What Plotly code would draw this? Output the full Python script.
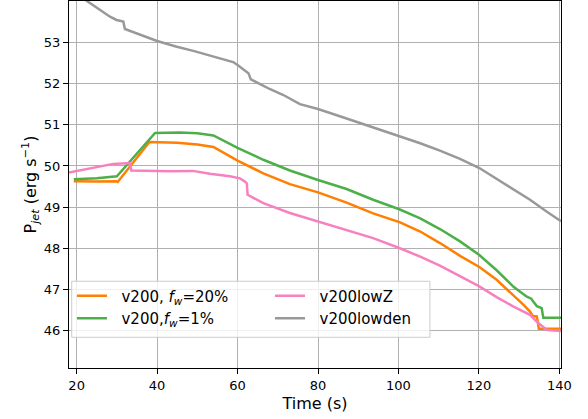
import plotly.graph_objects as go

# Jet power (log10, erg/s) versus time for four runs
t_fw20 = [19.3, 25.0, 29.8, 30.2, 38.1, 45.0, 50.0, 54.0, 58.9, 60.0, 66.4, 73.0, 80.0,
          87.1, 93.7, 100.4, 105.4, 110.3, 115.3, 120.1, 124.4, 128.6, 131.1, 132.7,
          133.4, 134.4, 134.9, 140.4]
p_fw20 = [49.63, 49.62, 49.63, 49.61, 50.58, 50.56, 50.52, 50.46, 50.19, 50.13, 49.82,
          49.56, 49.36, 49.11, 48.85, 48.63, 48.41, 48.13, 47.82, 47.55, 47.24, 46.87,
          46.63, 46.47, 46.36, 46.35, 46.05, 46.05]

t_fw1 = [19.3, 25.0, 30.0, 39.5, 45.6, 50.0, 54.0, 58.1, 60.0, 66.4, 73.0, 80.0, 87.1,
         93.7, 100.2, 105.4, 110.3, 115.3, 120.1, 124.4, 128.6, 131.9, 133.0, 133.5,
         134.4, 135.6, 136.0, 140.4]
p_fw1 = [49.68, 49.70, 49.75, 50.80, 50.81, 50.79, 50.74, 50.54, 50.44, 50.15, 49.89,
         49.66, 49.44, 49.18, 48.95, 48.73, 48.47, 48.17, 47.84, 47.47, 47.07, 46.83,
         46.78, 46.71, 46.60, 46.55, 46.32, 46.32]

t_lowz = [18.1, 24.1, 29.1, 33.3, 33.6, 40.0, 43.2, 48.9, 53.1, 58.1, 60.6, 61.8, 62.3,
          62.5, 66.4, 73.0, 80.0, 87.1, 93.7, 100.2, 105.4, 110.3, 115.3, 120.1, 124.4,
          128.6, 132.7, 134.4, 136.9, 140.4]
p_lowz = [49.84, 49.95, 50.05, 50.07, 49.89, 49.88, 49.87, 49.88, 49.81, 49.75, 49.70,
          49.62, 49.58, 49.30, 49.10, 48.86, 48.65, 48.45, 48.25, 48.01, 47.80, 47.58,
          47.32, 47.08, 46.82, 46.59, 46.39, 46.22, 46.02, 46.00]

t_lowden = [20.0, 22.1, 28.3, 29.9, 31.6, 32.0, 40.0, 44.9, 49.0, 58.9, 60.0, 62.7, 63.3,
            68.1, 71.4, 75.5, 78.0, 80.0, 87.1, 93.7, 100.2, 105.4, 110.3, 115.3, 120.1,
            124.4, 128.6, 132.7, 136.9, 140.4]
p_lowden = [54.17, 54.03, 53.62, 53.54, 53.50, 53.32, 53.03, 52.89, 52.79, 52.52, 52.45,
            52.25, 52.10, 51.86, 51.72, 51.50, 51.43, 51.38, 51.15, 50.94, 50.73, 50.55,
            50.37, 50.17, 49.95, 49.68, 49.42, 49.18, 48.89, 48.66]

x_ticks = [20, 40, 60, 80, 100, 120, 140]
y_ticks = [46, 47, 48, 49, 50, 51, 52, 53]

GAP = "\u00a0\u00a0"
# (label, times, powers, colour, legend column)
series = [
    (GAP + "v200, <i>f</i><sub><i>w</i></sub>=20%", t_fw20, p_fw20, "#ff7f00", "legend"),
    (GAP + "v200,<i>f</i><sub><i>w</i></sub>=1%", t_fw1, p_fw1, "#4daf4a", "legend"),
    (GAP + "v200lowZ", t_lowz, p_lowz, "#f781bf", "legend2"),
    (GAP + "v200lowden", t_lowden, p_lowden, "#999999", "legend2"),
]

fig = go.Figure()
for name, t, p, color, leg in series:
    fig.add_trace(go.Scatter(
        x=t, y=p, mode="lines", name=name, legend=leg,
        line=dict(color=color, width=2.5),
    ))

axis_common = dict(
    showline=True, linecolor="black", linewidth=1, mirror=True,
    showgrid=True, gridcolor="#b0b0b0", gridwidth=1,
    ticks="outside", ticklen=5, tickcolor="black",
    tickfont=dict(size=13, color="black"),
    zeroline=False,
)

legend_common = dict(
    orientation="v", y=0.241, yanchor="top", xanchor="left",
    bgcolor="rgba(0,0,0,0)", borderwidth=0,
    font=dict(size=15), tracegroupgap=0,
)

fig.update_layout(
    width=588, height=419,
    margin=dict(l=69, r=27, t=1, b=51),
    paper_bgcolor="white", plot_bgcolor="white",
    font=dict(family="DejaVu Sans", color="black"),
    xaxis=dict(range=[18.1, 140.4], tickvals=x_ticks,
               title=dict(text="Time (s)", font=dict(size=16), standoff=6),
               **axis_common),
    yaxis=dict(range=[45.1, 54.0], tickvals=y_ticks,
               title=dict(text="P<sub><i>jet</i></sub> (erg s<sup>−1</sup>)",
                          font=dict(size=16), standoff=3),
               **axis_common),
    legend=dict(x=0.006, **legend_common),
    legend2=dict(x=0.4085, **legend_common),
    showlegend=True,
    shapes=[dict(
        type="rect", xref="paper", yref="paper",
        x0=0.0055, x1=0.7336, y0=0.0837, y1=0.2364,
        fillcolor="rgba(255,255,255,0.8)", line=dict(color="#cccccc", width=1),
        layer="above",
    )],
)

fig.write_html("out.html")
